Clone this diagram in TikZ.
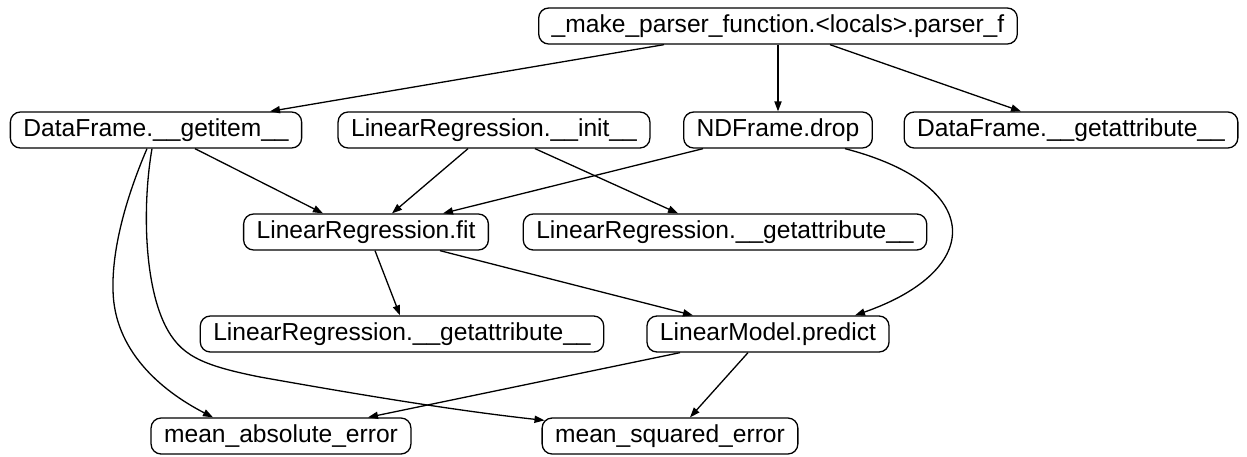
\documentclass[tikz,border=0pt]{standalone}
\usepackage{fontspec}
\setmainfont{Liberation Sans}
\usetikzlibrary{arrows.meta,calc}

\tikzset{
  fn/.style={draw, rounded corners=5pt, line width=0.65pt, minimum height=18pt,
    inner xsep=6.5pt, inner ysep=0pt, font=\fontsize{12.3pt}{14pt}\selectfont},
  call/.style={line width=0.65pt, -{Triangle[length=5pt,width=3.6pt]}}
}

\begin{document}
\begin{tikzpicture}[x=0.5pt,y=-0.5pt]
\useasboundingbox (0,0) rectangle (1247,456);

% call graph nodes, one row per level
\node[fn] (top)   at (778,26)  {\_make\_parser\_function.<locals>.parser\_f};
\node[fn] (gi)    at (156,130) {DataFrame.\_\_getitem\_\_};
\node[fn] (init)  at (494,130) {LinearRegression.\_\_init\_\_};
\node[fn] (drop)  at (778,130) {NDFrame.drop};
\node[fn] (dfga)  at (1071,130) {DataFrame.\_\_getattribute\_\_};
\node[fn] (fit)   at (366,232) {LinearRegression.fit};
\node[fn] (lrgaa) at (725,232) {LinearRegression.\_\_getattribute\_\_};
\node[fn] (lrgab) at (402,334) {LinearRegression.\_\_getattribute\_\_};
\node[fn] (pred)  at (768,334) {LinearModel.predict};
\node[fn] (mae)   at (281,436) {mean\_absolute\_error};
\node[fn] (mse)   at (670,436) {mean\_squared\_error};

% straight calls
\draw[call] ($(top.south)+(-114,0)$) -- ($(gi.north)+(114,0)$);
\draw[call] (top.south) -- (drop.north);
\draw[call] ($(top.south)+(52,0)$) -- ($(dfga.north)+(-50,0)$);
\draw[call] ($(gi.south)+(39,0)$) -- ($(fit.north)+(-43,0)$);
\draw[call] ($(init.south)+(-26,0)$) -- ($(fit.north)+(26,0)$);
\draw[call] ($(init.south)+(41,0)$) -- ($(lrgaa.north)+(-47,0)$);
\draw[call] ($(drop.south)+(-75,0)$) -- ($(fit.north)+(77,0)$);
\draw[call] ($(fit.south)+(9,0)$) -- ($(lrgab.north)+(-2,0)$);
\draw[call] ($(fit.south)+(74,0)$) -- ($(pred.north)+(-75,0)$);
\draw[call] ($(pred.south)+(-88,0)$) -- ($(mae.north)+(87,0)$);
\draw[call] ($(pred.south)+(-20,0)$) -- ($(mse.north)+(20,0)$);

% curved calls
\draw[call] ($(drop.south)+(67,0)$) .. controls (985,185) and (985,270) .. ($(pred.north)+(87,0)$);
\draw[call] ($(gi.south)+(-9,0)$) .. controls (125,200) and (112,250) .. (113,290)
  .. controls (114,350) and (160,390) .. ($(mae.north)+(-68,0)$);
\draw[call] ($(gi.south)+(-4,0)$) .. controls (143,200) and (143,280) .. (165,325)
  .. controls (180,355) and (200,365) .. (260,377)
  .. controls (350,393) and (450,410) .. ($(mse.north west)+(3,3)$);
\end{tikzpicture}
\end{document}
